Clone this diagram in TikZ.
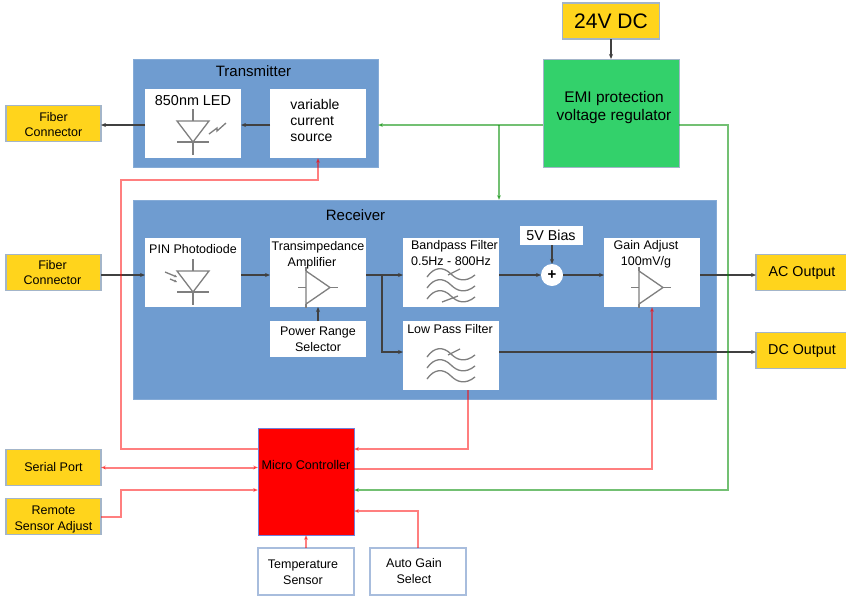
\documentclass[tikz,border=0pt]{standalone}
\usepackage{fontspec}
\setmainfont{Liberation Sans}
\usepackage{xcolor}
\usetikzlibrary{arrows.meta, positioning}
\definecolor{panelblue}{HTML}{6F9CD0}
\definecolor{portyellow}{HTML}{FFD41C}
\definecolor{portedge}{HTML}{A3B5C9}
\definecolor{inedge}{HTML}{A8BDDD}
\definecolor{emigreen}{HTML}{33D16B}
\definecolor{symgray}{HTML}{7F7F7F}
\tikzset{
  pics/diode/.style={code={
    \draw[sym] (-16,0) -- (16,0) -- (0,21) -- cycle;
    \draw[sym] (0,-12) -- (0,0) (-16,21) -- (16,21) (0,21) -- (0,34);
  }},
  pics/amp/.style={code={
    \draw[sym] (0,0) -- (0,33) -- (24,16.5) -- cycle;
    \draw[sym] (-8,16.5) -- (0,16.5) (24,16.5) -- (32,16.5) (0,-4) -- (0,0) (0,33) -- (0,37);
  }},
  pics/waves/.style={code={
    \foreach \wy in {0,11,22}
      \draw[sym] (-24,\wy) .. controls (-17,\wy-10) and (-8,\wy-11) .. (0,\wy-3) .. controls (6,\wy+3) and (14,\wy+6) .. (24,\wy-2);
    \draw[sym] (-3,-2) -- (9,-8);
  }}
}
\begin{document}
\begin{tikzpicture}[
      x=1pt, y=-1pt,
      panel/.style={draw=panelblue!85!white, fill=panelblue, line width=1pt, inner sep=0pt, outer sep=0pt},
      whitebox/.style={fill=white, inner sep=0pt, outer sep=0pt, minimum width=96pt, minimum height=69pt},
      smallbox/.style={whitebox, minimum height=36pt, align=center, font=\fontsize{12.5}{16}\selectfont},
      port/.style={draw=portedge, fill=portyellow, line width=1.5pt, inner sep=0pt, outer sep=0pt,
                   minimum width=95pt, minimum height=36pt, align=center, font=\fontsize{12.5}{15.5}\selectfont},
      inbox/.style={draw=inedge, fill=white, line width=1.5pt, inner sep=0pt, outer sep=0pt,
                   minimum width=96pt, minimum height=47pt},
      txt/.style={inner sep=0pt, align=center, font=\fontsize{12.5}{16}\selectfont},
      sym/.style={draw=symgray, line width=1.3pt},
      arr/.style={-{Stealth[length=5pt,width=4pt]}, line width=1.5pt, black!75},
      redarr/.style={-{Stealth[length=5pt,width=4pt]}, line width=2pt, red, opacity=.5},
      greenarr/.style={-{Stealth[length=5pt,width=4pt]}, line width=2pt, green!55!black, opacity=.55}
    ]
      \useasboundingbox (0,0) rectangle (846,595);
      \node[panel, minimum width=245pt, minimum height=108pt] (tx) at (255.5,113) {};
      \node[panel, minimum width=583pt, minimum height=199pt, below right=33pt and 0pt of tx.south west] (rx) {};
      \node[txt, font=\fontsize{15}{18}\selectfont, below=6pt of tx.north, xshift=-2pt] (txtitle) {Transmitter};
      \node[txt, font=\fontsize{15}{18}\selectfont, below=9pt of rx.north, xshift=-69pt] (rxtitle) {Receiver};

      \node[whitebox, below right=30pt and 12pt of tx.north west] (led) {};
      \node[whitebox, right=29pt of led] (src) {};
      \node[port, left=44pt of led] (fiberA) {};
      \node[txt, font=\fontsize{12.5}{15.5}\selectfont, below=6.5pt of fiberA.north] (fiberAtxt) {Fiber\\Connector};
      \node[draw=portedge, fill=emigreen, line width=1pt, inner sep=0pt, outer sep=0pt, minimum width=136pt,
            minimum height=108pt, right=165pt of tx] (emi) {};
      \node[txt, font=\fontsize{15.4}{18}\selectfont, below=32pt of emi.north, xshift=3pt] (emitxt) {EMI protection\\voltage regulator};
      \node[port, minimum width=97pt, font=\fontsize{21}{24}\selectfont, above=20pt of emi] (dcin) {24V DC};

      \node[whitebox, below right=38pt and 12pt of rx.north west] (pin) {};
      \node[whitebox, right=29pt of pin] (tia) {};
      \node[smallbox, below=14pt of tia] (power) {Power Range\\Selector};
      \node[whitebox, right=37pt of tia] (bp) {};
      \node[whitebox, below=14pt of bp] (lpf) {};
      \node[whitebox, right=105pt of bp] (gain) {};
      \node[circle, fill=white, minimum size=22pt, inner sep=0pt, outer sep=0pt, font=\bfseries\fontsize{15}{15}\selectfont,
            right=42pt of bp, yshift=-2.5pt] (sum) {+};
      \node[smallbox, minimum width=63pt, minimum height=19pt, font=\fontsize{14.3}{16}\selectfont, above=19pt of sum, xshift=-1pt] (bias) {5V Bias};
      \node[port, left=44pt of pin] (fiberB) {};
      \node[txt, font=\fontsize{12.5}{15.5}\selectfont, below=5.5pt of fiberB.north, xshift=-1pt] (fiberBtxt) {Fiber\\Connector};
      \node[port, minimum width=92pt, font=\fontsize{14.3}{16}\selectfont, right=56pt of gain] (acout) {AC Output};
      \node[port, minimum width=92pt, font=\fontsize{14.3}{16}\selectfont, below=42pt of acout] (dcout) {DC Output};

      \node[draw=portedge!70!blue, fill=red, line width=1pt, inner sep=0pt, outer sep=0pt, minimum width=96pt,
            minimum height=107pt, text depth=33pt, font=\fontsize{12.6}{16}\selectfont,
            below right=29pt and 125pt of rx.south west] (mc) {Micro Controller};
      \node[port, left=157pt of mc, yshift=14pt] (serial) {Serial Port};
      \node[port, below=13pt of serial] (remote) {};
      \node[txt, below=7.5pt of remote.north] (remotetxt) {Remote\\Sensor Adjust};
      \node[inbox, below=13pt of mc] (temp) {};
      \node[inbox, right=16pt of temp] (auto) {};
      \node[txt, below=12pt of temp.north, xshift=-3pt] (temptxt) {Temperature\\Sensor};
      \node[txt, below=10pt of auto.north, xshift=-4pt] (autotxt) {Auto Gain\\Select};

      \node[txt, font=\fontsize{14.4}{16}\selectfont, below=6pt of led.north] (ledtxt) {850nm LED};
      \node[txt, align=left, font=\fontsize{14}{16}\selectfont, below=10pt of src.north, xshift=-3pt] (srctxt) {variable\\current\\source};
      \node[txt, below=6pt of pin.north] (pintxt) {PIN Photodiode};
      \node[txt, below=3pt of tia.north] (tiatxt) {Transimpedance\\Amplifier\hspace*{12pt}};
      \node[txt, align=left, below=2pt of bp.north, xshift=3.5pt] (bptxt) {Bandpass Filter\\0.5Hz - 800Hz};
      \node[txt, below=3pt of lpf.north, xshift=-1pt] (lpftxt) {Low Pass Filter};
      \node[txt, below=2pt of gain.north, xshift=-6pt] (gaintxt) {Gain Adjust\\100mV/g};

      \pic at (193,121) {diode};
      \pic at (193,271) {diode};
      \pic at (306,271) {amp};
      \pic at (639,271) {amp};
      \pic at (451,277) {waves};
      \pic at (451,357) {waves};
      \draw[sym] (442,302) -- (458,296);
      \draw[sym] (209,134) -- (217,128) -- (217,131) -- (226,123);
      \draw[sym, -{Stealth[length=3pt,width=3pt]}] (165,272) -- (177,277);
      \draw[sym, -{Stealth[length=3pt,width=3pt]}] (170,279) -- (177,282);

      \draw[arr] (dcin) -- (emi);
      \draw[arr] ([yshift=-1.5pt]src.west) -- ([yshift=-1.5pt]led.east);
      \draw[arr] ([yshift=-1.5pt]led.west) -- ([yshift=-1.5pt]fiberA.east);
      \draw[arr] ([yshift=-2.5pt]fiberB.east) -- ([yshift=-2.5pt]pin.west);
      \draw[arr] ([yshift=-2.5pt]pin.east) -- ([yshift=-2.5pt]tia.west);
      \draw[arr] (power) -- (tia);
      \draw[arr] ([yshift=-2.5pt]tia.east) -- ([yshift=-2.5pt]bp.west);
      \coordinate (tap) at (382,275);
      \draw[arr] (tap) |- ([yshift=-1.5pt]lpf.west |- dcout.west);
      \draw[arr] ([yshift=-2.5pt]bp.east) -- (sum);
      \draw[arr] (sum) -- ([yshift=-2.5pt]gain.west);
      \draw[arr] (bias.south -| sum) -- (sum);
      \draw[arr] ([yshift=-2.5pt]gain.east) -- ([yshift=-2.5pt]acout.west);
      \draw[arr] ([yshift=-1.5pt]lpf.east |- dcout.west) -- ([yshift=-1.5pt]dcout.west);

      \coordinate (psu) at ([yshift=-12pt]emi.west);
      \coordinate (gbend) at (728,125);
      \draw[greenarr] (psu) -- (psu -| tx.east);
      \draw[greenarr] (psu -| bp.east) -- (bp.east |- rx.north);
      \draw[greenarr] (psu -| emi.east) -- (gbend) |- ([yshift=-8.5pt]mc.east);

      \coordinate (ctlbend) at (121,180);
      \draw[redarr] ([yshift=32.5pt]mc.west) -| (ctlbend) -| (src.south);
      \draw[redarr, {Stealth[length=5pt,width=4pt]}-{Stealth[length=5pt,width=4pt]}] (serial.east) -- (serial.east -| mc.west);
      \draw[redarr] (remote.east) -- (remote.east -| ctlbend) |- ([yshift=-8.5pt]mc.west);
      \draw[redarr] ([xshift=16.5pt]lpf.south) |- ([yshift=32.5pt]mc.east);
      \draw[redarr] ([yshift=12.5pt]mc.east) -| (gain.south);
      \draw[redarr] (temp) -- (mc);
      \draw[redarr] (auto.north) |- ([yshift=-29.5pt]mc.east);
    \end{tikzpicture}
\end{document}
